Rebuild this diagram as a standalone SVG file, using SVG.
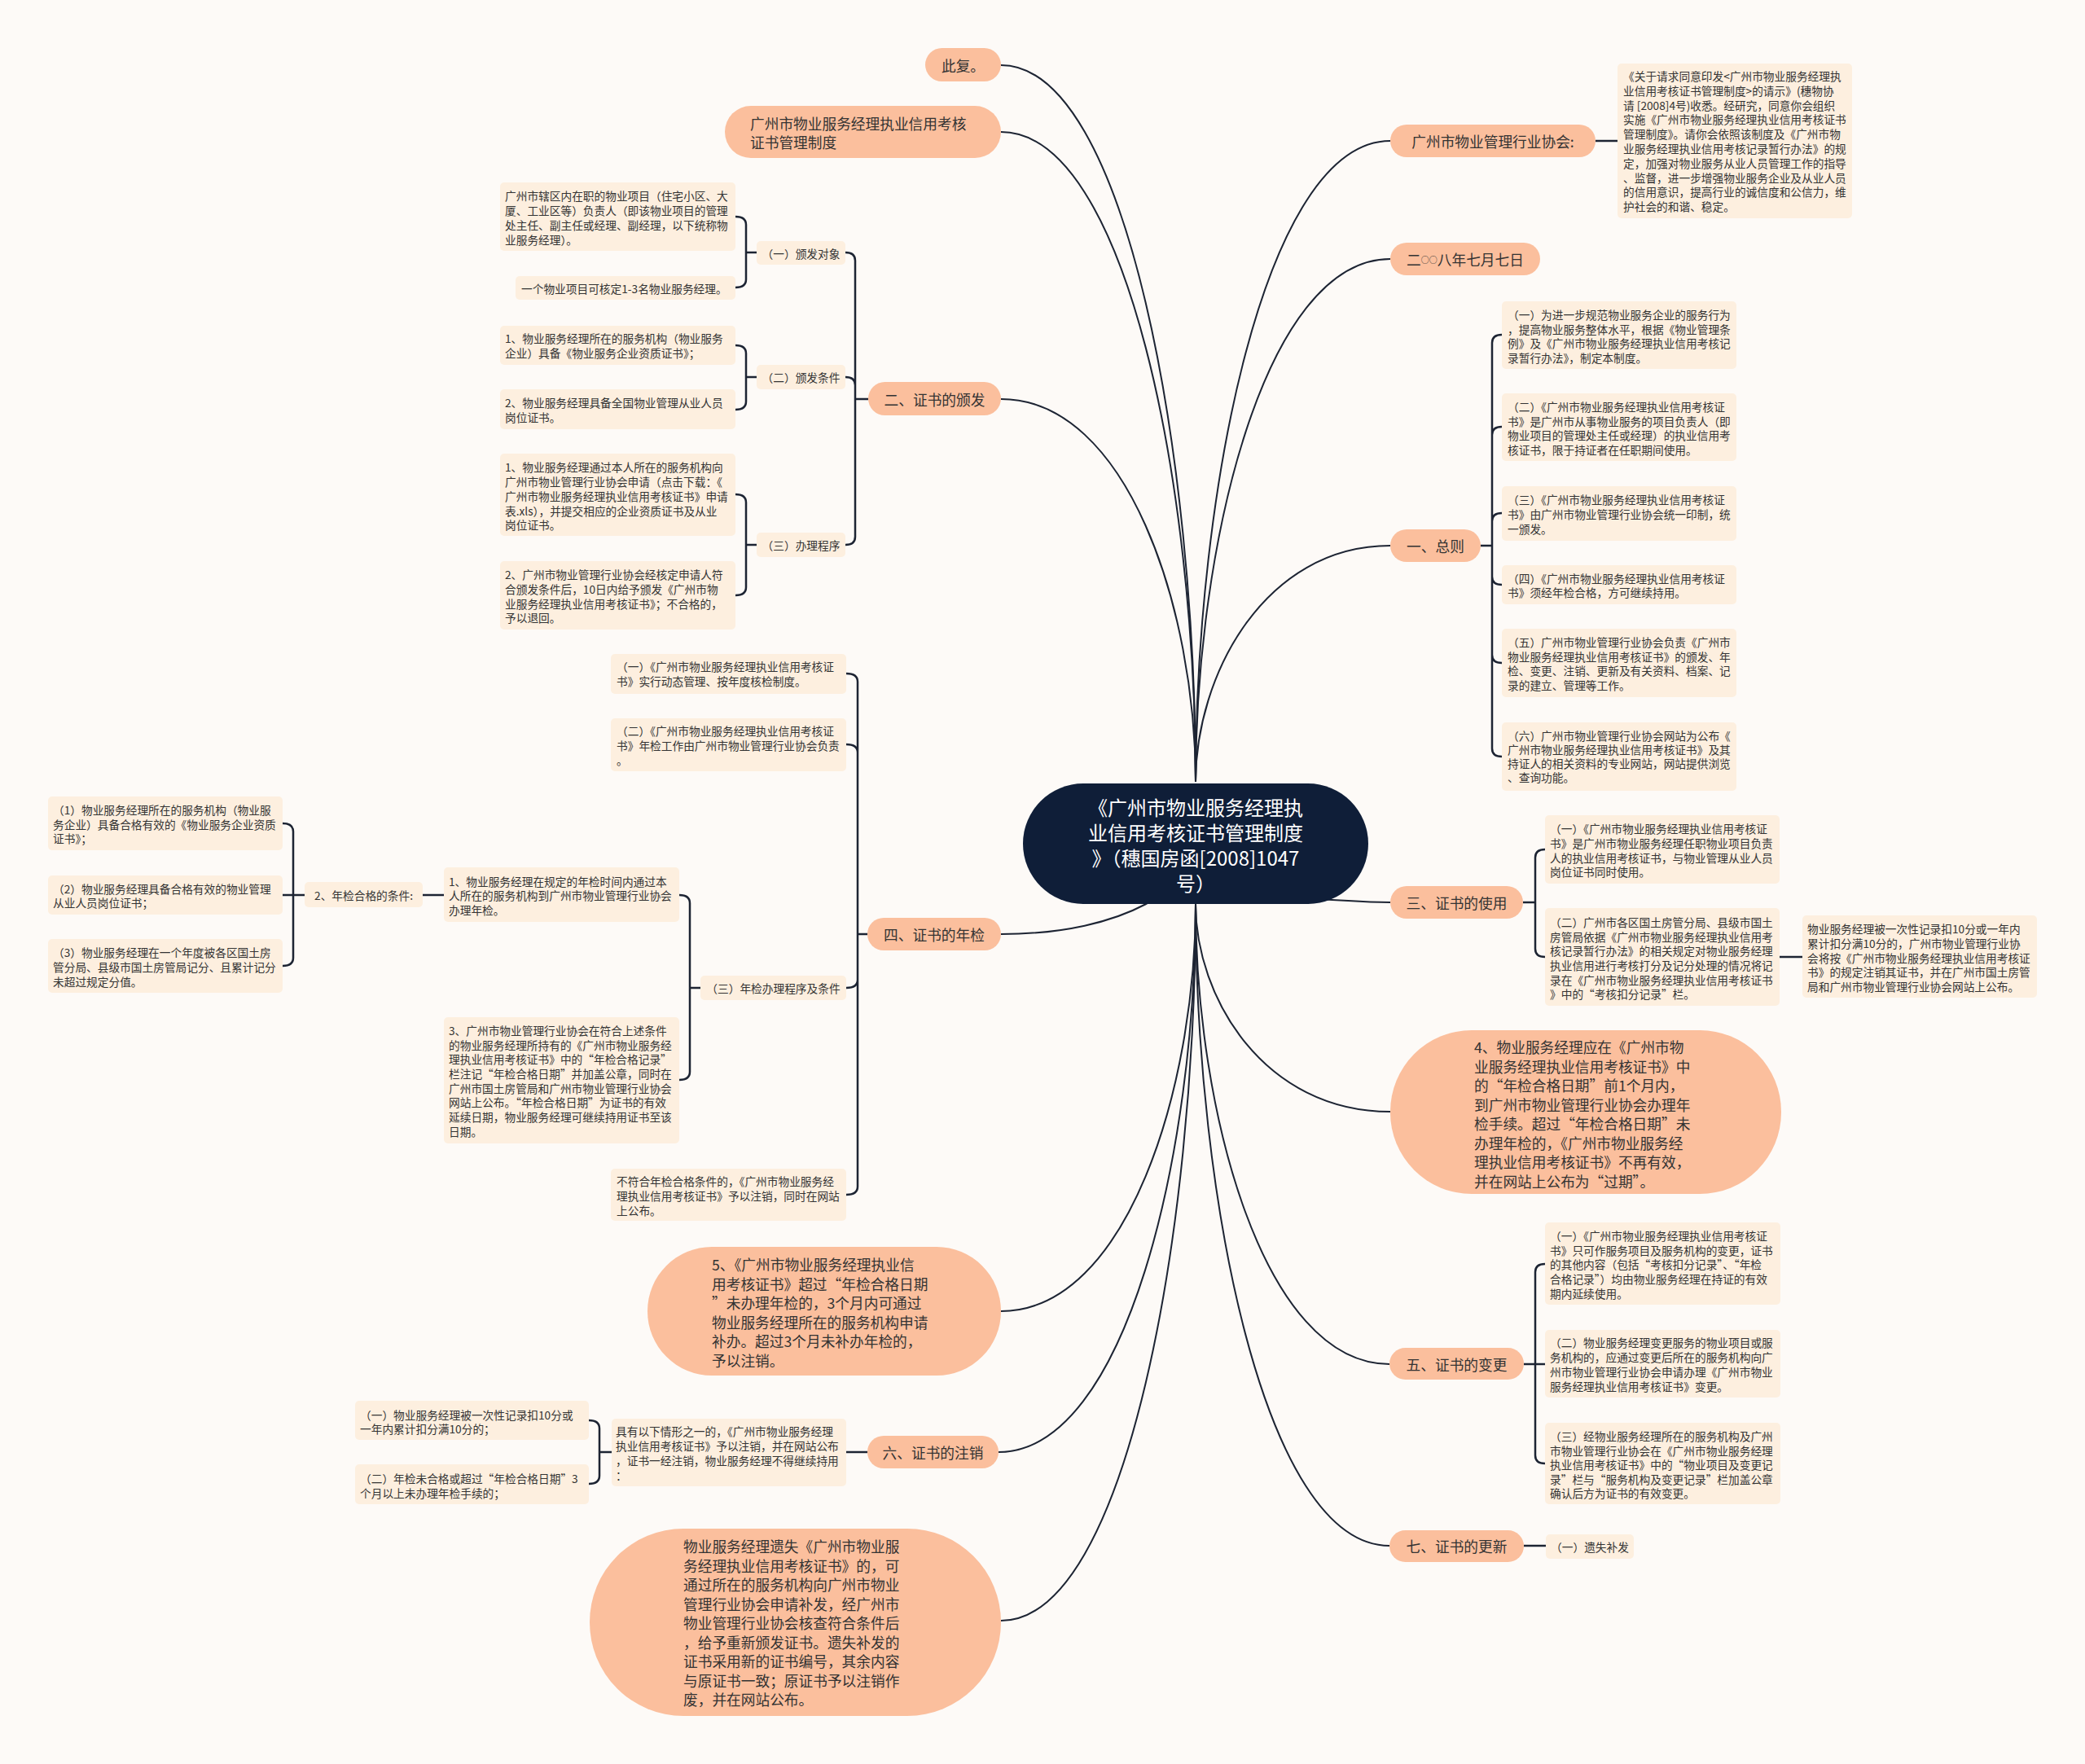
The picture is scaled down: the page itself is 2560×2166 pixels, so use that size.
<svg xmlns="http://www.w3.org/2000/svg" width="2560" height="2166" viewBox="0 0 2560 2166">
<style>
text{font-family:"Noto Sans CJK SC","Noto Sans",sans-serif;fill:#333;dominant-baseline:central}
.s{font-size:13.7px}
.m{font-size:17.7px}
.c{font-size:24px;fill:#fff}
.leaf{fill:#FDEFDF}
.pill{fill:#FBBF9D}
.root{fill:#0F1E38}
.ln{stroke:#1D2433;stroke-width:2;fill:none}
.br{stroke:#1D2433;stroke-width:2.5;fill:none}
.mid{text-anchor:middle}
</style>
<rect width="2560" height="2166" fill="#FDFAF7"/>
<g id="connectors">
<path class="ln" d="M1468 960 C1468 606 1552 173 1707 173"/>
<path class="ln" d="M1468 960 C1468 671 1552 318 1707 318"/>
<path class="ln" d="M1468 960 C1468 830 1552 670 1707 670"/>
<path class="ln" d="M1468 960 C1468 564 1384 80 1229 80"/>
<path class="ln" d="M1468 960 C1468 601 1384 162 1229 162"/>
<path class="ln" d="M1468 960 C1468 748 1384 490 1229 490"/>
<path class="ln" d="M1468 1036 C1468 1086 1384 1147 1229 1147"/>
<path class="ln" d="M1600 1104 C1650 1104 1660 1108 1707 1108"/>
<path class="ln" d="M1468 1110 C1468 1225 1552 1365 1707 1365"/>
<path class="ln" d="M1468 1110 C1468 1364 1551 1675 1706 1675"/>
<path class="ln" d="M1468 1110 C1468 1465 1551 1898 1706 1898"/>
<path class="ln" d="M1468 1110 C1468 1335 1384 1610 1229 1610"/>
<path class="ln" d="M1468 1110 C1468 1413 1383 1783 1226 1783"/>
<path class="ln" d="M1468 1110 C1468 1506 1384 1990 1229 1990"/>
<path class="br" d="M1038 310 Q1050 310 1050 320 L1050 490 M1038 463 Q1050 463 1050 473 L1050 490 M1038 669 Q1050 669 1050 659 L1050 490 M1050 490 L1066 490"/>
<path class="br" d="M903 266 Q916 266 916 276 L916 310 M903 353 Q916 353 916 343 L916 310 M916 310 L929 310"/>
<path class="br" d="M903 424 Q916 424 916 434 L916 463 M903 503 Q916 503 916 493 L916 463 M916 463 L929 463"/>
<path class="br" d="M903 607 Q916 607 916 617 L916 669 M903 731 Q916 731 916 721 L916 669 M916 669 L929 669"/>
<path class="br" d="M1039 827 Q1053 827 1053 837 L1053 1147 M1039 914 Q1053 914 1053 924 L1053 1147 M1039 1213 Q1053 1213 1053 1203 L1053 1147 M1039 1467 Q1053 1467 1053 1457 L1053 1147 M1053 1147 L1065 1147"/>
<path class="br" d="M834 1099 Q847 1099 847 1109 L847 1213 M834 1326 Q847 1326 847 1316 L847 1213 M847 1213 L860 1213"/>
<path class="br" d="M519 1099 L545 1099"/>
<path class="br" d="M347 1011 Q360 1011 360 1021 L360 1099 M347 1099 L374 1099 M347 1186 Q360 1186 360 1176 L360 1099"/>
<path class="br" d="M1039 1783 L1065 1783"/>
<path class="br" d="M723 1744 Q736 1744 736 1754 L736 1783 M723 1822 Q736 1822 736 1812 L736 1783 M736 1783 L751 1783"/>
<path class="br" d="M1959 173 L1986 173"/>
<path class="br" d="M1844 411 Q1832 411 1832 421 L1832 670 M1844 524 Q1832 524 1832 534 L1832 670 M1844 630 Q1832 630 1832 640 L1832 670 M1844 718 Q1832 718 1832 708 L1832 670 M1844 814 Q1832 814 1832 804 L1832 670 M1844 929 Q1832 929 1832 919 L1832 670 M1818 670 L1832 670"/>
<path class="br" d="M1897 1043 Q1885 1043 1885 1053 L1885 1108 M1897 1175 Q1885 1175 1885 1165 L1885 1108 M1870 1108 L1885 1108"/>
<path class="br" d="M2185 1175 L2213 1175"/>
<path class="br" d="M1897 1552 Q1885 1552 1885 1562 L1885 1675 M1871 1675 L1897 1675 M1897 1797 Q1885 1797 1885 1787 L1885 1675"/>
<path class="br" d="M1871 1898 L1898 1898"/>
</g>
<g id="root">
<rect class="root" x="1256" y="962" width="424" height="148" rx="74"/>
<text class="c mid"><tspan x="1468" y="990">《广州市物业服务经理执</tspan><tspan x="1468" y="1021">业信用考核证书管理制度</tspan><tspan x="1468" y="1052">》（穗国房函[2008]1047</tspan><tspan x="1468" y="1083">号）</tspan></text>
</g>
<g id="n-cifu"><rect class="pill" x="1136" y="59" width="93" height="41" rx="20.5"/><text class="m mid" x="1182.5" y="80">此复。</text></g>
<g id="n-zhidu"><rect class="pill" x="890" y="130" width="339" height="64" rx="32"/><text class="m"><tspan x="921" y="151">广州市物业服务经理执业信用考核</tspan><tspan x="921" y="174">证书管理制度</tspan></text></g>
<g id="n-banfa"><rect class="pill" x="1066" y="469" width="163" height="41" rx="20.5"/><text class="m mid" x="1147.5" y="490">二、证书的颁发</text></g>
<g id="p-duixiang"><rect class="leaf" x="929" y="296" width="109" height="29" rx="5"/><text class="s mid" x="983.5" y="310.5">（一）颁发对象</text></g>
<g id="b-dx1"><rect class="leaf" x="614" y="224" width="289" height="84" rx="5"/><text class="s"><tspan x="620" y="240">广州市辖区内在职的物业项目（住宅小区、大</tspan><tspan x="620" y="258">厦、工业区等）负责人（即该物业项目的管理</tspan><tspan x="620" y="276">处主任、副主任或经理、副经理，以下统称物</tspan><tspan x="620" y="294">业服务经理）。</tspan></text></g>
<g id="b-dx2"><rect class="leaf" x="633" y="339" width="270" height="29" rx="5"/><text class="s" x="640" y="354">一个物业项目可核定1-3名物业服务经理。</text></g>
<g id="p-tiaojian"><rect class="leaf" x="929" y="448" width="109" height="30" rx="5"/><text class="s mid" x="983.5" y="463">（二）颁发条件</text></g>
<g id="b-tj1"><rect class="leaf" x="614" y="400" width="289" height="48" rx="5"/><text class="s"><tspan x="620" y="415">1、物业服务经理所在的服务机构（物业服务</tspan><tspan x="620" y="433">企业）具备《物业服务企业资质证书》；</tspan></text></g>
<g id="b-tj2"><rect class="leaf" x="614" y="478" width="289" height="49" rx="5"/><text class="s"><tspan x="620" y="494">2、物业服务经理具备全国物业管理从业人员</tspan><tspan x="620" y="512">岗位证书。</tspan></text></g>
<g id="p-chengxu"><rect class="leaf" x="929" y="654" width="109" height="30" rx="5"/><text class="s mid" x="983.5" y="669">（三）办理程序</text></g>
<g id="b-cx1"><rect class="leaf" x="614" y="557" width="289" height="101" rx="5"/><text class="s"><tspan x="620" y="573">1、物业服务经理通过本人所在的服务机构向</tspan><tspan x="620" y="591">广州市物业管理行业协会申请（点击下载：《</tspan><tspan x="620" y="609">广州市物业服务经理执业信用考核证书》申请</tspan><tspan x="620" y="627">表.xls），并提交相应的企业资质证书及从业</tspan><tspan x="620" y="644">岗位证书。</tspan></text></g>
<g id="b-cx2"><rect class="leaf" x="614" y="689" width="289" height="84" rx="5"/><text class="s"><tspan x="620" y="705">2、广州市物业管理行业协会经核定申请人符</tspan><tspan x="620" y="723">合颁发条件后，10日内给予颁发《广州市物</tspan><tspan x="620" y="741">业服务经理执业信用考核证书》；不合格的，</tspan><tspan x="620" y="758">予以退回。</tspan></text></g>
<g id="n-nianjian"><rect class="pill" x="1065" y="1127" width="164" height="40" rx="20"/><text class="m mid" x="1147" y="1147">四、证书的年检</text></g>
<g id="b-nj1"><rect class="leaf" x="750" y="803" width="289" height="49" rx="5"/><text class="s"><tspan x="757" y="818">（一）《广州市物业服务经理执业信用考核证</tspan><tspan x="757" y="836">书》实行动态管理、按年度核检制度。</tspan></text></g>
<g id="b-nj2"><rect class="leaf" x="750" y="882" width="289" height="65" rx="5"/><text class="s"><tspan x="757" y="897">（二）《广州市物业服务经理执业信用考核证</tspan><tspan x="757" y="915">书》年检工作由广州市物业管理行业协会负责</tspan><tspan x="757" y="933">。</tspan></text></g>
<g id="p-nj3"><rect class="leaf" x="860" y="1198" width="179" height="30" rx="5"/><text class="s mid" x="949.5" y="1213">（三）年检办理程序及条件</text></g>
<g id="b-nj-1"><rect class="leaf" x="545" y="1065" width="289" height="67" rx="5"/><text class="s"><tspan x="551" y="1082">1、物业服务经理在规定的年检时间内通过本</tspan><tspan x="551" y="1099">人所在的服务机构到广州市物业管理行业协会</tspan><tspan x="551" y="1117">办理年检。</tspan></text></g>
<g id="b-nj-3"><rect class="leaf" x="545" y="1249" width="289" height="155" rx="5"/><text class="s"><tspan x="551" y="1265">3、广州市物业管理行业协会在符合上述条件</tspan><tspan x="551" y="1283">的物业服务经理所持有的《广州市物业服务经</tspan><tspan x="551" y="1300">理执业信用考核证书》中的“年检合格记录”</tspan><tspan x="551" y="1318">栏注记“年检合格日期”并加盖公章，同时在</tspan><tspan x="551" y="1336">广州市国土房管局和广州市物业管理行业协会</tspan><tspan x="551" y="1353">网站上公布。“年检合格日期”为证书的有效</tspan><tspan x="551" y="1371">延续日期，物业服务经理可继续持用证书至该</tspan><tspan x="551" y="1389">日期。</tspan></text></g>
<g id="b-bfh"><rect class="leaf" x="750" y="1435" width="289" height="64" rx="5"/><text class="s"><tspan x="757" y="1450">不符合年检合格条件的，《广州市物业服务经</tspan><tspan x="757" y="1468">理执业信用考核证书》予以注销，同时在网站</tspan><tspan x="757" y="1486">上公布。</tspan></text></g>
<g id="p-hege"><rect class="leaf" x="374" y="1083" width="145" height="31" rx="5"/><text class="s mid" x="446.5" y="1099">2、年检合格的条件:</text></g>
<g id="b-c1"><rect class="leaf" x="59" y="978" width="288" height="66" rx="5"/><text class="s"><tspan x="65" y="994">（1）物业服务经理所在的服务机构（物业服</tspan><tspan x="65" y="1012">务企业）具备合格有效的《物业服务企业资质</tspan><tspan x="65" y="1029">证书》；</tspan></text></g>
<g id="b-c2"><rect class="leaf" x="59" y="1075" width="288" height="48" rx="5"/><text class="s"><tspan x="65" y="1091">（2）物业服务经理具备合格有效的物业管理</tspan><tspan x="65" y="1108">从业人员岗位证书；</tspan></text></g>
<g id="b-c3"><rect class="leaf" x="59" y="1153" width="288" height="66" rx="5"/><text class="s"><tspan x="65" y="1169">（3）物业服务经理在一个年度被各区国土房</tspan><tspan x="65" y="1187">管分局、县级市国土房管局记分、且累计记分</tspan><tspan x="65" y="1205">未超过规定分值。</tspan></text></g>
<g id="n-five"><rect class="pill" x="795" y="1531" width="434" height="158" rx="79"/><text class="m"><tspan x="874" y="1552">5、《广州市物业服务经理执业信</tspan><tspan x="874" y="1575.5">用考核证书》超过“年检合格日期</tspan><tspan x="874" y="1599">”未办理年检的，3个月内可通过</tspan><tspan x="874" y="1622.5">物业服务经理所在的服务机构申请</tspan><tspan x="874" y="1646">补办。超过3个月未补办年检的，</tspan><tspan x="874" y="1669.5">予以注销。</tspan></text></g>
<g id="n-zhuxiao"><rect class="pill" x="1065" y="1763" width="161" height="40" rx="20"/><text class="m mid" x="1145.5" y="1783">六、证书的注销</text></g>
<g id="b-jy"><rect class="leaf" x="751" y="1742" width="288" height="83" rx="5"/><text class="s"><tspan x="756" y="1757">具有以下情形之一的，《广州市物业服务经理</tspan><tspan x="756" y="1775">执业信用考核证书》予以注销，并在网站公布</tspan><tspan x="756" y="1793">，证书一经注销，物业服务经理不得继续持用</tspan><tspan x="756" y="1811">：</tspan></text></g>
<g id="b-zx1"><rect class="leaf" x="436" y="1720" width="287" height="48" rx="5"/><text class="s"><tspan x="442" y="1737">（一）物业服务经理被一次性记录扣10分或</tspan><tspan x="442" y="1754">一年内累计扣分满10分的；</tspan></text></g>
<g id="b-zx2"><rect class="leaf" x="436" y="1798" width="287" height="49" rx="5"/><text class="s"><tspan x="442" y="1815">（二）年检未合格或超过“年检合格日期”3</tspan><tspan x="442" y="1833">个月以上未办理年检手续的；</tspan></text></g>
<g id="n-yishi"><rect class="pill" x="724" y="1877" width="505" height="230" rx="115"/><text class="m"><tspan x="839" y="1898">物业服务经理遗失《广州市物业服</tspan><tspan x="839" y="1921.5">务经理执业信用考核证书》的，可</tspan><tspan x="839" y="1945">通过所在的服务机构向广州市物业</tspan><tspan x="839" y="1968.5">管理行业协会申请补发，经广州市</tspan><tspan x="839" y="1992">物业管理行业协会核查符合条件后</tspan><tspan x="839" y="2015.5">，给予重新颁发证书。遗失补发的</tspan><tspan x="839" y="2039">证书采用新的证书编号，其余内容</tspan><tspan x="839" y="2062.5">与原证书一致；原证书予以注销作</tspan><tspan x="839" y="2086">废，并在网站公布。</tspan></text></g>
<g id="n-xiehui"><rect class="pill" x="1707" y="153" width="252" height="40" rx="20"/><text class="m mid" x="1833" y="173">广州市物业管理行业协会:</text></g>
<g id="b-desc"><rect class="leaf" x="1986" y="78" width="288" height="190" rx="5"/><text class="s"><tspan x="1993" y="93">《关于请求同意印发&lt;广州市物业服务经理执</tspan><tspan x="1993" y="111">业信用考核证书管理制度&gt;的请示》(穗物协</tspan><tspan x="1993" y="129">请 [2008]4号)收悉。经研究，同意你会组织</tspan><tspan x="1993" y="146">实施《广州市物业服务经理执业信用考核证书</tspan><tspan x="1993" y="164">管理制度》。请你会依照该制度及《广州市物</tspan><tspan x="1993" y="182">业服务经理执业信用考核记录暂行办法》的规</tspan><tspan x="1993" y="200">定，加强对物业服务从业人员管理工作的指导</tspan><tspan x="1993" y="218">、监督，进一步增强物业服务企业及从业人员</tspan><tspan x="1993" y="235">的信用意识，提高行业的诚信度和公信力，维</tspan><tspan x="1993" y="253">护社会的和谐、稳定。</tspan></text></g>
<g id="n-date"><rect class="pill" x="1707" y="298" width="184" height="40" rx="20"/><text class="m mid" x="1799" y="318">二<tspan font-size="10px">○○</tspan>八年七月七日</text></g>
<g id="n-zongze"><rect class="pill" x="1707" y="650" width="111" height="40" rx="20"/><text class="m mid" x="1762.5" y="670">一、总则</text></g>
<g id="z1"><rect class="leaf" x="1844" y="370" width="288" height="83" rx="5"/><text class="s"><tspan x="1851" y="386">（一）为进一步规范物业服务企业的服务行为</tspan><tspan x="1851" y="403.5">，提高物业服务整体水平，根据《物业管理条</tspan><tspan x="1851" y="421">例》及《广州市物业服务经理执业信用考核记</tspan><tspan x="1851" y="438.5">录暂行办法》，制定本制度。</tspan></text></g>
<g id="z2"><rect class="leaf" x="1844" y="483" width="288" height="83" rx="5"/><text class="s"><tspan x="1851" y="499">（二）《广州市物业服务经理执业信用考核证</tspan><tspan x="1851" y="517">书》是广州市从事物业服务的项目负责人（即</tspan><tspan x="1851" y="534">物业项目的管理处主任或经理）的执业信用考</tspan><tspan x="1851" y="552">核证书，限于持证者在任职期间使用。</tspan></text></g>
<g id="z3"><rect class="leaf" x="1844" y="597" width="288" height="67" rx="5"/><text class="s"><tspan x="1851" y="613">（三）《广州市物业服务经理执业信用考核证</tspan><tspan x="1851" y="631">书》由广州市物业管理行业协会统一印制，统</tspan><tspan x="1851" y="649">一颁发。</tspan></text></g>
<g id="z4"><rect class="leaf" x="1844" y="694" width="288" height="48" rx="5"/><text class="s"><tspan x="1851" y="710">（四）《广州市物业服务经理执业信用考核证</tspan><tspan x="1851" y="727">书》须经年检合格，方可继续持用。</tspan></text></g>
<g id="z5"><rect class="leaf" x="1844" y="772" width="288" height="84" rx="5"/><text class="s"><tspan x="1851" y="788">（五）广州市物业管理行业协会负责《广州市</tspan><tspan x="1851" y="806">物业服务经理执业信用考核证书》的颁发、年</tspan><tspan x="1851" y="823">检、变更、注销、更新及有关资料、档案、记</tspan><tspan x="1851" y="841">录的建立、管理等工作。</tspan></text></g>
<g id="z6"><rect class="leaf" x="1844" y="887" width="288" height="84" rx="5"/><text class="s"><tspan x="1851" y="903">（六）广州市物业管理行业协会网站为公布《</tspan><tspan x="1851" y="920">广州市物业服务经理执业信用考核证书》及其</tspan><tspan x="1851" y="937">持证人的相关资料的专业网站，网站提供浏览</tspan><tspan x="1851" y="954">、查询功能。</tspan></text></g>
<g id="n-shiyong"><rect class="pill" x="1707" y="1088" width="163" height="40" rx="20"/><text class="m mid" x="1788.5" y="1108">三、证书的使用</text></g>
<g id="s1"><rect class="leaf" x="1897" y="1001" width="288" height="84" rx="5"/><text class="s"><tspan x="1903" y="1017">（一）《广州市物业服务经理执业信用考核证</tspan><tspan x="1903" y="1035">书》是广州市物业服务经理任职物业项目负责</tspan><tspan x="1903" y="1053">人的执业信用考核证书，与物业管理从业人员</tspan><tspan x="1903" y="1070">岗位证书同时使用。</tspan></text></g>
<g id="s2"><rect class="leaf" x="1897" y="1115" width="288" height="120" rx="5"/><text class="s"><tspan x="1903" y="1132">（二）广州市各区国土房管分局、县级市国土</tspan><tspan x="1903" y="1149.5">房管局依据《广州市物业服务经理执业信用考</tspan><tspan x="1903" y="1167">核记录暂行办法》的相关规定对物业服务经理</tspan><tspan x="1903" y="1185">执业信用进行考核打分及记分处理的情况将记</tspan><tspan x="1903" y="1202.5">录在《广州市物业服务经理执业信用考核证书</tspan><tspan x="1903" y="1220">》中的“考核扣分记录”栏。</tspan></text></g>
<g id="s3"><rect class="leaf" x="2213" y="1124" width="288" height="101" rx="5"/><text class="s"><tspan x="2219" y="1140">物业服务经理被一次性记录扣10分或一年内</tspan><tspan x="2219" y="1158">累计扣分满10分的，广州市物业管理行业协</tspan><tspan x="2219" y="1176">会将按《广州市物业服务经理执业信用考核证</tspan><tspan x="2219" y="1193">书》的规定注销其证书，并在广州市国土房管</tspan><tspan x="2219" y="1211">局和广州市物业管理行业协会网站上公布。</tspan></text></g>
<g id="n-four"><rect class="pill" x="1707" y="1265" width="480" height="201" rx="100"/><text class="m"><tspan x="1810" y="1285">4、物业服务经理应在《广州市物</tspan><tspan x="1810" y="1308.5">业服务经理执业信用考核证书》中</tspan><tspan x="1810" y="1332">的“年检合格日期”前1个月内，</tspan><tspan x="1810" y="1355.5">到广州市物业管理行业协会办理年</tspan><tspan x="1810" y="1379">检手续。超过“年检合格日期”未</tspan><tspan x="1810" y="1402.5">办理年检的，《广州市物业服务经</tspan><tspan x="1810" y="1426">理执业信用考核证书》不再有效，</tspan><tspan x="1810" y="1449.5">并在网站上公布为“过期”。</tspan></text></g>
<g id="n-biangeng"><rect class="pill" x="1706" y="1655" width="165" height="39" rx="19.5"/><text class="m mid" x="1788.5" y="1675">五、证书的变更</text></g>
<g id="w1"><rect class="leaf" x="1897" y="1501" width="289" height="101" rx="5"/><text class="s"><tspan x="1903" y="1517">（一）《广州市物业服务经理执业信用考核证</tspan><tspan x="1903" y="1534.5">书》只可作服务项目及服务机构的变更，证书</tspan><tspan x="1903" y="1552">的其他内容（包括“考核扣分记录”、“年检</tspan><tspan x="1903" y="1570">合格记录”）均由物业服务经理在持证的有效</tspan><tspan x="1903" y="1588">期内延续使用。</tspan></text></g>
<g id="w2"><rect class="leaf" x="1897" y="1633" width="289" height="83" rx="5"/><text class="s"><tspan x="1903" y="1648">（二）物业服务经理变更服务的物业项目或服</tspan><tspan x="1903" y="1666">务机构的，应通过变更后所在的服务机构向广</tspan><tspan x="1903" y="1684">州市物业管理行业协会申请办理《广州市物业</tspan><tspan x="1903" y="1702">服务经理执业信用考核证书》变更。</tspan></text></g>
<g id="w3"><rect class="leaf" x="1897" y="1747" width="289" height="100" rx="5"/><text class="s"><tspan x="1903" y="1763">（三）经物业服务经理所在的服务机构及广州</tspan><tspan x="1903" y="1781">市物业管理行业协会在《广州市物业服务经理</tspan><tspan x="1903" y="1798">执业信用考核证书》中的“物业项目及变更记</tspan><tspan x="1903" y="1816">录”栏与“服务机构及变更记录”栏加盖公章</tspan><tspan x="1903" y="1833">确认后方为证书的有效变更。</tspan></text></g>
<g id="n-gengxin"><rect class="pill" x="1706" y="1879" width="165" height="39" rx="19.5"/><text class="m mid" x="1788.5" y="1898">七、证书的更新</text></g>
<g id="q1"><rect class="leaf" x="1898" y="1884" width="108" height="30" rx="5"/><text class="s mid" x="1952" y="1899">（一）遗失补发</text></g>
</svg>
